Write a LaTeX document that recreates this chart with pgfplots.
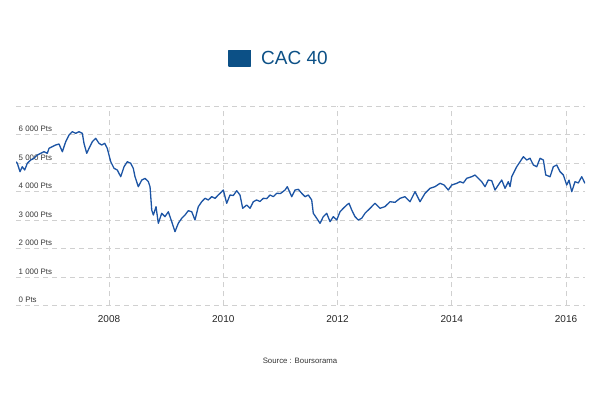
\documentclass[border=0pt]{standalone}
\usepackage{fontspec}
\setmainfont{Liberation Sans}
\usepackage{pgfplots}
\usepackage{pgfplotstable}
\pgfplotsset{compat=1.18}
\definecolor{cacline}{RGB}{28,84,164}
\definecolor{cacleg}{RGB}{12,80,134}
\definecolor{gridc}{RGB}{208,208,208}
\definecolor{ticktxt}{RGB}{55,55,55}

\pgfplotstableread{
year value
2006.372 5045
2006.395 4990
2006.442 4695
2006.482 4870
2006.524 4754
2006.570 4990
2006.629 5105
2006.687 5165
2006.745 5280
2006.804 5340
2006.862 5396
2006.920 5340
2006.950 5515
2007.007 5572
2007.067 5632
2007.125 5667
2007.183 5396
2007.242 5747
2007.300 5982
2007.358 6098
2007.417 6042
2007.475 6098
2007.533 6042
2007.562 5690
2007.610 5340
2007.650 5515
2007.708 5747
2007.767 5866
2007.825 5690
2007.872 5632
2007.925 5690
2007.970 5515
2008.030 5045
2008.088 4813
2008.145 4754
2008.205 4520
2008.263 4870
2008.320 5045
2008.380 4990
2008.425 4813
2008.455 4520
2008.513 4170
2008.573 4400
2008.630 4460
2008.688 4350
2008.718 4170
2008.748 3350
2008.776 3175
2008.823 3467
2008.863 2885
2008.923 3235
2008.980 3117
2009.038 3290
2009.098 2940
2009.155 2590
2009.213 2885
2009.273 3060
2009.330 3175
2009.388 3326
2009.448 3290
2009.505 3000
2009.563 3467
2009.623 3642
2009.680 3761
2009.738 3702
2009.798 3818
2009.856 3760
2009.913 3877
2009.973 3993
2010.001 4052
2010.060 3586
2010.118 3877
2010.176 3860
2010.235 4028
2010.293 3877
2010.340 3410
2010.410 3526
2010.468 3410
2010.526 3642
2010.585 3702
2010.643 3650
2010.701 3761
2010.761 3750
2010.818 3877
2010.876 3820
2010.936 3937
2011.002 3930
2011.081 4052
2011.121 4170
2011.198 3818
2011.256 4052
2011.314 4077
2011.373 3937
2011.431 3818
2011.489 3877
2011.548 3702
2011.576 3235
2011.636 3060
2011.694 2885
2011.751 3117
2011.811 3235
2011.869 2940
2011.926 3117
2011.986 3000
2012.044 3290
2012.101 3410
2012.161 3526
2012.201 3586
2012.249 3350
2012.306 3117
2012.364 3000
2012.423 3060
2012.481 3235
2012.569 3410
2012.656 3586
2012.744 3410
2012.831 3470
2012.919 3642
2013.006 3620
2013.094 3761
2013.181 3818
2013.269 3642
2013.357 3993
2013.444 3642
2013.532 3937
2013.619 4112
2013.707 4170
2013.794 4287
2013.864 4230
2013.939 4052
2013.999 4228
2014.087 4287
2014.144 4345
2014.202 4300
2014.262 4463
2014.349 4520
2014.407 4579
2014.465 4463
2014.524 4345
2014.582 4170
2014.640 4404
2014.699 4380
2014.757 4052
2014.815 4228
2014.874 4404
2014.932 4112
2014.990 4345
2015.020 4170
2015.049 4520
2015.137 4870
2015.195 5045
2015.253 5220
2015.312 5105
2015.370 5165
2015.428 4930
2015.487 4870
2015.545 5165
2015.603 5105
2015.645 4579
2015.720 4520
2015.778 4870
2015.837 4930
2015.895 4695
2015.953 4579
2016.012 4228
2016.052 4400
2016.100 3993
2016.157 4345
2016.215 4300
2016.274 4520
2016.332 4287
}\cacdata

\begin{document}
\begin{tikzpicture}
\path[use as bounding box] (0bp,0bp) rectangle (600bp,396bp);
\begin{axis}[
  at={(16bp,90.5bp)}, anchor=south west,
  scale only axis, width=569bp, height=199.5bp,
  xmin=2006.372, xmax=2016.332, ymin=0, ymax=7000,
  axis line style={draw=none},
  tick style={draw=none},
  xtick={2008,2010,2012,2014,2016},
  xticklabels={2008,2010,2012,2014,2016},
  ytick={0,1000,2000,3000,4000,5000,6000,7000},
  yticklabels={0 Pts,1 000 Pts,2 000 Pts,3 000 Pts,4 000 Pts,5 000 Pts,6 000 Pts,{}},
  grid=major,
  grid style={gridc, dash pattern=on 5bp off 4bp, line width=0.9bp},
  yticklabel style={anchor=south west, font=\fontsize{7.9bp}{9bp}\selectfont, text=ticktxt, inner sep=2.5bp},
  xticklabel style={font=\fontsize{10bp}{12bp}\selectfont, text=black!85, yshift=-6bp},
  clip=true,
  legend style={draw=none, fill=none, at={(axis description cs:0.3726,1.2356)}, anchor=west,
    font=\fontsize{19bp}{21bp}\selectfont, text=cacleg, inner sep=0pt, column sep=8bp},
  legend image code/.code={\fill[cacleg] (0bp,-6.85bp) rectangle (21.7bp,8.85bp);},
]
\addplot[cacline, line width=1.3bp, line join=round] table[x=year, y=value] {\cacdata};
\addlegendentry{CAC 40}
\end{axis}
\node[font=\fontsize{7.8bp}{9bp}\selectfont, text=black!80] at (300bp,35bp) {Source : Boursorama};
\end{tikzpicture}
\end{document}
